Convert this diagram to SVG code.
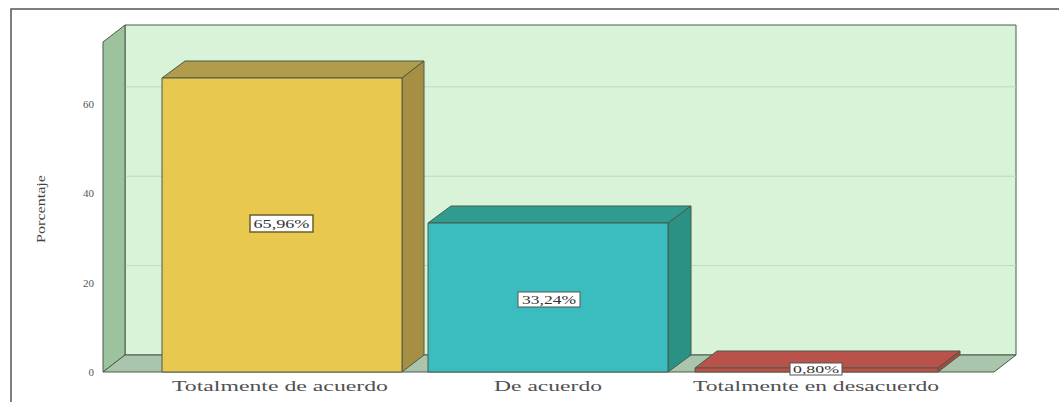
<svg xmlns="http://www.w3.org/2000/svg" width="1059" height="402" viewBox="0 0 1059 402">
<style>
.edge{stroke:#4a5a4a;stroke-width:1;stroke-linejoin:round}
.grid{stroke:#bcdabc;stroke-width:1}
.tick{font-family:"Liberation Serif",serif;font-size:11px;fill:#555;text-anchor:end}
.cat{font-family:"Liberation Serif",serif;font-size:15px;fill:#505050;text-anchor:middle}
.val{font-family:"Liberation Serif",serif;fill:#333;text-anchor:middle}
.box{fill:#ffffff;stroke:#555;stroke-width:1}
</style>
<rect x="0" y="0" width="1059" height="402" fill="#ffffff"/>
<path d="M11 402 V9 H1059" fill="none" stroke="#555" stroke-width="1.5"/>
<g id="chart-frame">
  <polygon class="edge" points="125,25 1016,25 1016,355 125,355" fill="#d9f3d9"/>
  <line class="grid" x1="125" y1="86.8" x2="1016" y2="86.8"/>
  <line class="grid" x1="125" y1="176.2" x2="1016" y2="176.2"/>
  <line class="grid" x1="125" y1="265.6" x2="1016" y2="265.6"/>
  <polygon class="edge" points="103,42 125,25 125,355 103,372" fill="#9cc39e"/>
  <polygon class="edge" points="103,372 125,355 1016,355 994,372" fill="#a9c5ab"/>
</g>
<g id="axis">
  <text class="tick" x="94" y="108">60</text>
  <text class="tick" x="94" y="197">40</text>
  <text class="tick" x="94" y="287">20</text>
  <text class="tick" x="94" y="376">0</text>
  <text font-family="Liberation Serif, serif" font-size="13" fill="#444" text-anchor="middle" textLength="68" lengthAdjust="spacingAndGlyphs" transform="translate(45 209) rotate(-90)">Porcentaje</text>
</g>
<g id="bar-totalmente-de-acuerdo">
  <polygon class="edge" points="162,78 185,61 424,61 402,78" fill="#b19c4b"/>
  <polygon class="edge" points="402,78 424,61 424,355 402,372" fill="#a68f42"/>
  <rect class="edge" x="162" y="78" width="240" height="294" fill="#e9c850"/>
  <rect x="250" y="215" width="63" height="17" fill="#ffffff" stroke="#6b5e2a" stroke-width="1.5"/>
  <text class="val" x="281.5" y="228" font-size="12" textLength="56" lengthAdjust="spacingAndGlyphs">65,96%</text>
  <text class="cat" x="280" y="391" textLength="216" lengthAdjust="spacingAndGlyphs">Totalmente de acuerdo</text>
</g>
<g id="bar-de-acuerdo">
  <polygon class="edge" points="428,223 451,206 691,206 668,223" fill="#2f9c8f"/>
  <polygon class="edge" points="668,223 691,206 691,355 668,372" fill="#2a9184"/>
  <rect class="edge" x="428" y="223" width="240" height="149" fill="#3bbdc0"/>
  <rect class="box" x="518" y="292" width="62" height="15"/>
  <text class="val" x="549" y="304" font-size="12" textLength="54" lengthAdjust="spacingAndGlyphs">33,24%</text>
  <text class="cat" x="548" y="391" textLength="108" lengthAdjust="spacingAndGlyphs">De acuerdo</text>
</g>
<g id="bar-totalmente-en-desacuerdo">
  <polygon class="edge" points="695,368 717,351 960,351 938,368" fill="#b9524b"/>
  <polygon class="edge" points="938,368 960,351 960,355 938,372" fill="#a84840"/>
  <rect class="edge" x="695" y="368" width="243" height="4" fill="#c44f47"/>
  <rect class="box" x="790" y="363" width="52" height="12"/>
  <text class="val" x="816" y="373" font-size="11" textLength="46" lengthAdjust="spacingAndGlyphs">0,80%</text>
  <text class="cat" x="816" y="391" textLength="246" lengthAdjust="spacingAndGlyphs">Totalmente en desacuerdo</text>
</g>
<g id="connectors"></g>
</svg>
